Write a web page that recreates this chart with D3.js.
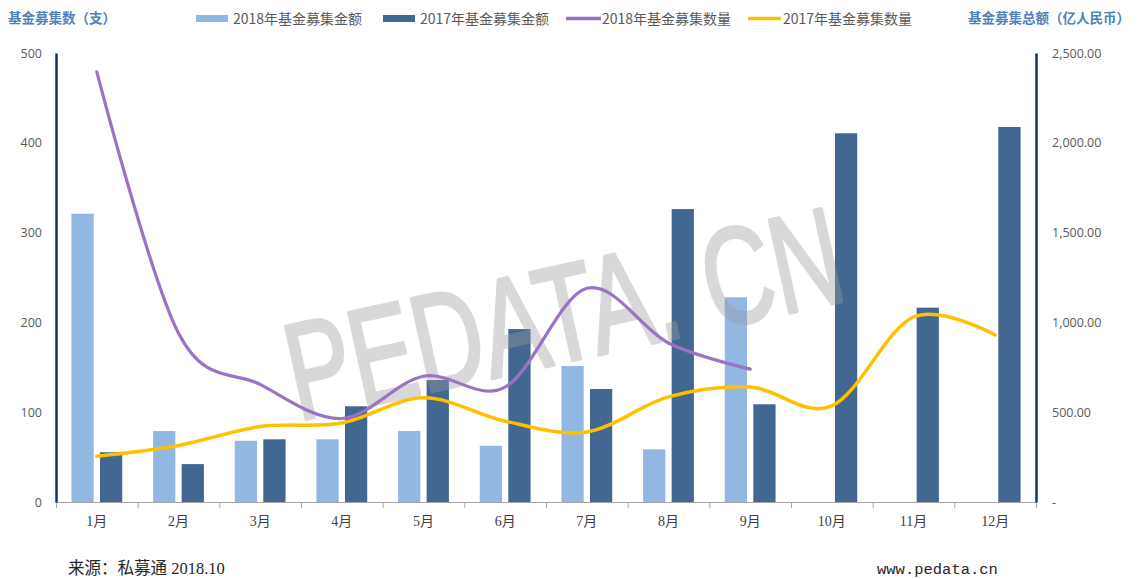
<!DOCTYPE html>
<html>
<head>
<meta charset="utf-8">
<script src="https://cdn.jsdelivr.net/npm/d3@7"></script>
<style>
  body { margin: 0; background: #fff; }
  svg text { font-family: "Noto Sans CJK SC", "Liberation Sans", sans-serif; }
</style>
</head>
<body>
<div id="chart"></div>
<script>
// data
var months = ["1月", "2月", "3月", "4月", "5月", "6月", "7月", "8月", "9月", "10月", "11月", "12月"];
var amount2018 = [1605, 395, 341, 349, 395, 313, 757, 293, 1140];
var amount2017 = [277, 211, 349, 533, 679, 963, 629, 1631, 544, 2053, 1082, 2088];
var count2018 = [479, 188, 131, 93, 140, 128, 238, 177, 148];
var count2017 = [51, 63, 84, 88, 116, 90, 78, 117, 128, 107, 206, 186];
var countTicks = [0, 100, 200, 300, 400, 500];
var amountTicks = [0, 500, 1000, 1500, 2000, 2500];

var width = 1139, height = 579;
var margin = {top: 53, right: 103, bottom: 77, left: 56};

var c2018 = "#93b7e3", c2017 = "#426891", cPurple = "#9b72c5", cYellow = "#ffc000";
var navy = "#0f3460";

var svg = d3.select("#chart")
    .append("svg")
    .attr("width", width)
    .attr("height", height);

var x0 = d3.scaleBand()
    .domain(months)
    .range([margin.left, width - margin.right])
    .paddingInner(0.378)
    .paddingOuter(0.189);

var x1 = d3.scaleBand()
    .domain(["2018", "2017"])
    .range([0, x0.bandwidth()])
    .paddingInner(0.22);

var yL = d3.scaleLinear().domain([0, 500]).range([height - margin.bottom, margin.top]);
var yR = d3.scaleLinear().domain([0, 2500]).range([height - margin.bottom, margin.top]);

// x axis: boundary ticks
var xIdx = d3.scaleLinear().domain([0, 12]).range([margin.left, width - margin.right]);
svg.append("g")
    .attr("transform", "translate(0," + (height - margin.bottom) + ")")
    .call(d3.axisBottom(xIdx).ticks(12).tickFormat("").tickSize(6).tickSizeOuter(0))
    .call(g => g.selectAll("line, path").attr("stroke", "#a6a6a6"));

// x axis labels
svg.append("g")
    .attr("transform", "translate(0," + (height - margin.bottom) + ")")
    .call(d3.axisBottom(x0).tickSize(0).tickPadding(14))
    .call(g => g.select(".domain").remove())
    .call(g => g.selectAll("text")
        .attr("fill", "#404040")
        .style("font-size", "14px")
        .style("font-family", "'Liberation Serif', 'Noto Sans CJK SC', serif"));

// bars
var bars = svg.append("g");
bars.selectAll(".b18")
    .data(amount2018)
    .enter()
    .append("rect")
    .attr("x", (d, i) => x0(months[i]) + x1("2018"))
    .attr("y", d => yR(d))
    .attr("width", x1.bandwidth())
    .attr("height", d => yR(0) - yR(d))
    .attr("fill", c2018);
bars.selectAll(".b17")
    .data(amount2017)
    .enter()
    .append("rect")
    .attr("x", (d, i) => x0(months[i]) + x1("2017"))
    .attr("y", d => yR(d))
    .attr("width", x1.bandwidth())
    .attr("height", d => yR(0) - yR(d))
    .attr("fill", c2017);

// watermark (group opacity so fill + stroke blend as one)
svg.append("g")
    .attr("opacity", 0.38)
    .append("text")
    .attr("transform", "translate(298,421) rotate(-12.4)")
    .attr("textLength", 565)
    .attr("lengthAdjust", "spacingAndGlyphs")
    .style("font-family", "'Liberation Sans Narrow', 'Liberation Sans', sans-serif")
    .style("font-size", "138px")
    .attr("fill", "#9a9a9a")
    .attr("stroke", "#9a9a9a")
    .attr("stroke-width", 3.5)
    .attr("stroke-linejoin", "round")
    .text("PEDATA. CN");

// lines
var line = d3.line()
    .x((d, i) => x0(months[i]) + x0.bandwidth() / 2)
    .y(d => yL(d))
    .curve(d3.curveCardinal.tension(0));

svg.append("path")
    .datum(count2017)
    .attr("d", line)
    .attr("fill", "none")
    .attr("stroke", cYellow)
    .attr("stroke-width", 3.5)
    .attr("stroke-linecap", "round");

svg.append("path")
    .datum(count2018)
    .attr("d", line)
    .attr("fill", "none")
    .attr("stroke", cPurple)
    .attr("stroke-width", 3.2)
    .attr("stroke-linecap", "round");

// left axis
svg.append("g")
    .attr("transform", "translate(" + margin.left + ",0)")
    .call(d3.axisLeft(yL).tickValues(countTicks).tickSize(0).tickPadding(14))
    .call(g => g.select(".domain").attr("stroke", navy).attr("stroke-width", 2.5))
    .call(g => g.selectAll("text").attr("fill", "#595959").style("font-size", "12.5px")
        .style("font-family", "'Open Sans', 'Liberation Sans', sans-serif"));

// right axis
svg.append("g")
    .attr("transform", "translate(" + (width - margin.right) + ",0)")
    .call(d3.axisRight(yR).tickValues(amountTicks).tickSize(0).tickPadding(16)
        .tickFormat(d => d === 0 ? "-" : d3.format(",.2f")(d)))
    .call(g => g.select(".domain").attr("stroke", navy).attr("stroke-width", 2.5))
    .call(g => g.selectAll("text").attr("fill", "#595959").style("font-size", "12.5px")
        .style("font-family", "'Open Sans', 'Liberation Sans', sans-serif"));

// axis titles
svg.append("text")
    .attr("x", 8).attr("y", 23)
    .attr("fill", "#4f81bd")
    .style("font-size", "13.5px")
    .style("font-weight", "bold")
    .text("基金募集数（支）");

svg.append("text")
    .attr("x", 968).attr("y", 23)
    .attr("fill", "#4f81bd")
    .style("font-size", "13.5px")
    .style("font-weight", "bold")
    .text("基金募集总额（亿人民币）");

// legend
var legendItems = [
    {name: "2018年基金募集金额", color: c2018, type: "rect", x: 196, w: 32, tx: 233},
    {name: "2017年基金募集金额", color: c2017, type: "rect", x: 383, w: 32, tx: 420},
    {name: "2018年基金募集数量", color: cPurple, type: "line", x: 566, w: 35, tx: 602},
    {name: "2017年基金募集数量", color: cYellow, type: "line", x: 748, w: 33, tx: 783}
];
var legend = svg.append("g");
legendItems.forEach(function(d) {
    if (d.type === "rect") {
        legend.append("rect").attr("x", d.x).attr("y", 15).attr("width", d.w).attr("height", 7).attr("fill", d.color);
    } else {
        legend.append("line").attr("x1", d.x).attr("x2", d.x + d.w).attr("y1", 18.5).attr("y2", 18.5)
            .attr("stroke", d.color).attr("stroke-width", 3.5);
    }
    legend.append("text")
        .attr("x", d.tx).attr("y", 24)
        .attr("fill", "#595959")
        .style("font-size", "14px")
        .text(d.name);
});

// footer
svg.append("text")
    .attr("x", 68).attr("y", 574)
    .attr("fill", "#262626")
    .style("font-size", "16.5px")
    .style("font-family", "'Liberation Serif', 'Noto Sans CJK SC', serif")
    .text("来源：私募通 2018.10");

svg.append("text")
    .attr("x", 877).attr("y", 574)
    .attr("fill", "#262626")
    .style("font-size", "15.5px")
    .style("font-family", "'Liberation Mono', monospace")
    .text("www.pedata.cn");
</script>
</body>
</html>
